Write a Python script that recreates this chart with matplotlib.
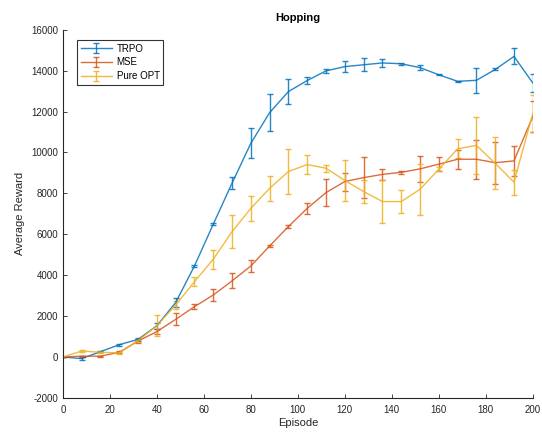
import numpy as np
import matplotlib
matplotlib.use('Agg')
import matplotlib.pyplot as plt

plt.rcParams['font.family'] = ['Liberation Sans', 'DejaVu Sans']
plt.rcParams['axes.unicode_minus'] = False

episodes = [0, 8, 16, 24, 32, 40, 48, 56, 64, 72, 80, 88, 96, 104,
            112, 120, 128, 136, 144, 152, 160, 168, 176, 184, 192, 200]

trpo_mean = [0, -80, 260, 600, 860, 1530, 2660, 4450, 6490, 8500, 10450, 11950, 12980, 13520,
             13990, 14200, 14290, 14380, 14340, 14150, 13800, 13480, 13530, 14060, 14700, 13400]
trpo_err = [0, 60, 40, 40, 60, 150, 200, 60, 60, 300, 730, 900, 600, 170,
            90, 270, 310, 190, 50, 110, 30, 40, 610, 50, 390, 450]

mse_mean = [0, 40, 40, 230, 780, 1240, 1840, 2460, 3030, 3720, 4450, 5430, 6380, 7270,
            8040, 8580, 8770, 8930, 9030, 9200, 9430, 9670, 9670, 9500, 9590, 11760]
mse_err = [0, 30, 30, 60, 80, 130, 290, 110, 280, 370, 280, 70, 80, 280,
           670, 440, 1000, 260, 60, 630, 330, 470, 960, 1020, 720, 770]

opt_mean = [0, 290, 230, 200, 800, 1530, 2540, 3680, 4780, 6130, 7270, 8250, 9070, 9410,
            9230, 8630, 8090, 7600, 7600, 8200, 9180, 10180, 10350, 9470, 8550, 11900]
opt_err = [0, 60, 50, 60, 80, 520, 190, 230, 460, 800, 610, 610, 1100, 460,
           160, 980, 550, 1060, 570, 1240, 100, 470, 1400, 1270, 610, 900]

series = [
    ('TRPO', trpo_mean, trpo_err, '#0072BD'),
    ('MSE', mse_mean, mse_err, '#D95319'),
    ('Pure OPT', opt_mean, opt_err, '#EDB120'),
]

fig = plt.figure(figsize=(5.42, 4.32), dpi=100)
ax = fig.add_axes([0.116, 0.079, 0.867, 0.852])

for name, mean, err, color in series:
    ax.errorbar(episodes, mean, yerr=err, color=color, linewidth=1.0,
                elinewidth=1.0, capsize=2.5, capthick=1.0, label=name, alpha=0.85)

ax.set_xlim(0, 200)
ax.set_ylim(-2000, 16000)
ax.set_xticks(np.arange(0, 201, 20))
ax.set_yticks(np.arange(-2000, 16001, 2000))
ax.spines['top'].set_visible(False)
ax.spines['right'].set_visible(False)
ax.tick_params(direction='in', length=3, labelsize=7, width=0.6, colors='#262626')
ax.tick_params(axis='x', pad=5)
for s in ['left', 'bottom']:
    ax.spines[s].set_linewidth(0.8)
    ax.spines[s].set_color('#262626')

ax.set_xlabel('Episode', fontsize=8, labelpad=2, color='#262626')
ax.set_ylabel('Average Reward', fontsize=8, labelpad=4, color='#262626')
ax.set_title('Hopping', fontsize=8, fontweight='bold', pad=6)

leg = ax.legend(loc='upper left', fontsize=7, frameon=True, fancybox=False,
                edgecolor='black', handlelength=3.2, borderpad=0.35,
                labelspacing=0.4, handletextpad=0.5, bbox_to_anchor=(0.02, 0.985))
leg.get_frame().set_linewidth(0.8)

fig.savefig('out.png', dpi=100)
